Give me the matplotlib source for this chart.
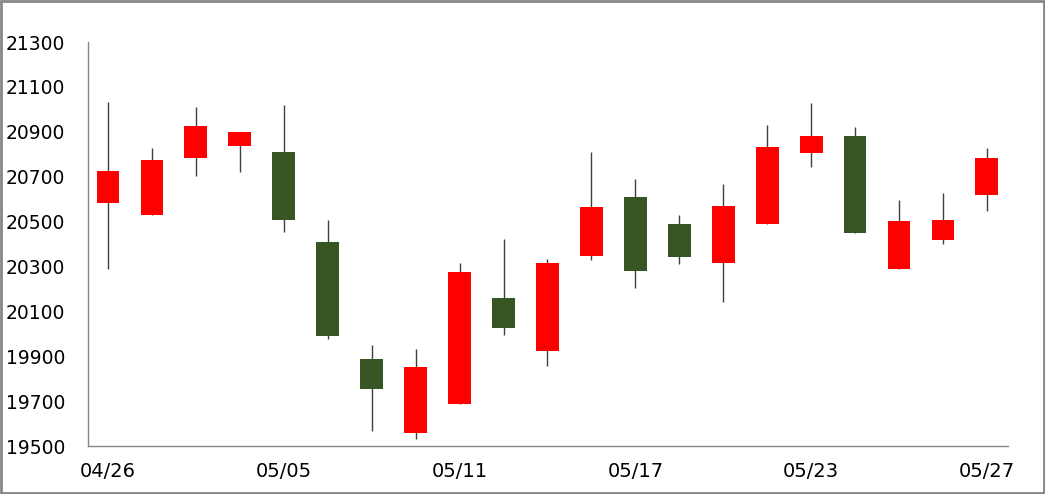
import matplotlib.pyplot as plt
import matplotlib.patches as patches

# Daily candles
dates = ["04/26", "04/27", "04/28", "05/02", "05/05", "05/06", "05/09", "05/10",
         "05/11", "05/12", "05/13", "05/16", "05/17", "05/18", "05/19", "05/20",
         "05/23", "05/24", "05/25", "05/26", "05/27"]
opens = [20584, 20530, 20784, 20836, 20810, 20409, 19888, 19559, 19689, 20159, 19925,
         20348, 20609, 20489, 20317, 20490, 20807, 20881, 20290, 20419, 20620]
closes = [20725, 20774, 20926, 20899, 20508, 19991, 19754, 19852, 20275, 20027, 20315,
          20565, 20281, 20343, 20569, 20832, 20881, 20450, 20502, 20507, 20783]
highs = [21033, 20828, 21010, 20899, 21018, 20505, 19950, 19932, 20315, 20422, 20333,
         20808, 20688, 20528, 20667, 20929, 21027, 20921, 20596, 20627, 20828]
lows = [20290, 20530, 20704, 20722, 20455, 19978, 19568, 19533, 19689, 19996, 19858,
        20330, 20205, 20312, 20143, 20490, 20744, 20450, 20290, 20401, 20548]

UP_COLOR = "#ff0000"
DOWN_COLOR = "#375623"
WICK_COLOR = "#404040"
AXIS_COLOR = "#868686"

fig = plt.figure(figsize=(10.45, 4.94), dpi=100)
ax = fig.add_axes([88 / 1045, 1 - 446 / 494, 920 / 1045, 404 / 494])

body_w = 0.52
for i in range(len(dates)):
    o, c, h, l = opens[i], closes[i], highs[i], lows[i]
    color = UP_COLOR if c >= o else DOWN_COLOR
    ax.vlines(i, l, h, color=WICK_COLOR, linewidth=1, zorder=1)
    ax.add_patch(patches.Rectangle((i - body_w / 2, min(o, c)), body_w, abs(c - o),
                                   facecolor=color, edgecolor="none", zorder=2))

ax.set_xlim(-0.455, len(dates) - 0.52)
ax.set_ylim(19500, 21300)
ax.set_yticks(range(19500, 21301, 200))
ax.set_xticks(range(0, len(dates), 4))
ax.set_xticklabels(dates[::4])

for s in ["top", "right"]:
    ax.spines[s].set_visible(False)
for s in ["left", "bottom"]:
    ax.spines[s].set_color(AXIS_COLOR)
    ax.spines[s].set_linewidth(1)
ax.tick_params(axis="both", length=0, labelcolor="black")
ax.tick_params(axis="y", pad=16.5, labelsize=13.5)
ax.tick_params(axis="x", pad=11.5, labelsize=14)

# outer chart border
fig.add_artist(patches.Rectangle((0.001, 0.002), 0.998, 0.996, transform=fig.transFigure,
                                 facecolor="none", edgecolor=AXIS_COLOR, linewidth=2))

fig.savefig("out.png", dpi=100)
